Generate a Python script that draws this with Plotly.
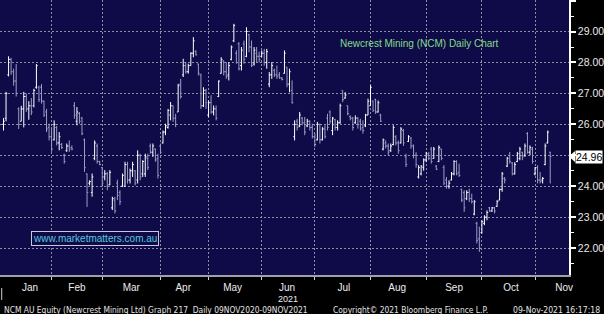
import pandas as pd
import plotly.graph_objects as go

# ASX holidays in the window (no trading)
holidays = ["2021-01-26", "2021-04-02", "2021-04-05", "2021-04-26", "2021-06-14"]

# Daily OHLC (open, high, low, close), month by month
jan = [(26.0, 26.2, 25.8, 26.1), (26.2, 27.05, 26.1, 27.0), (27.6, 28.2, 27.55, 28.1),
       (28.1, 28.15, 27.6, 27.7), (27.7, 27.8, 27.25, 27.4), (27.4, 27.95, 26.9, 27.0),
       (26.5, 26.55, 25.85, 26.0), (26.1, 26.6, 26.1, 26.5), (26.5, 27.05, 25.9, 26.9),
       (26.9, 27.0, 26.4, 26.5), (26.5, 26.75, 26.15, 26.6), (26.6, 26.85, 26.3, 26.4),
       (26.6, 27.15, 26.55, 27.1), (27.2, 27.95, 27.15, 27.9), (27.2, 27.25, 26.72, 26.8),
       (27.2, 27.3, 26.67, 26.75), (26.75, 26.77, 26.24, 26.3), (26.4, 26.5, 25.75, 25.85),
       (25.9, 26.02, 25.48, 25.6)]
feb = [(25.6, 25.91, 25.11, 25.2), (25.5, 26.13, 25.48, 26.0), (25.9, 25.95, 25.32, 25.4),
       (25.4, 25.75, 25.16, 25.6), (25.35, 25.4, 25.2, 25.25), (25.0, 25.05, 24.73, 24.8),
       (25.15, 25.38, 25.11, 25.3), (25.3, 25.48, 25.11, 25.2), (25.25, 25.32, 25.16, 25.2),
       (26.6, 26.72, 26.18, 26.3), (26.1, 26.56, 25.97, 26.4), (26.35, 26.4, 26.02, 26.1),
       (26.2, 26.24, 25.65, 25.7), (25.5, 25.54, 24.46, 24.6), (24.4, 24.41, 23.33, 23.8),
       (24.1, 24.19, 24.03, 24.15), (23.8, 24.41, 23.66, 24.3), (24.9, 25.48, 24.84, 25.4),
       (25.3, 25.38, 24.73, 24.8), (24.8, 24.82, 24.68, 24.7)]
mar = [(24.6, 24.62, 23.98, 24.1), (24.3, 24.52, 24.19, 24.4), (24.4, 24.46, 23.87, 24.0),
       (24.05, 24.52, 24.03, 24.45), (23.3, 23.66, 23.23, 23.6), (23.55, 23.66, 23.12, 23.2),
       (24.1, 24.21, 23.55, 23.7), (23.8, 23.87, 23.39, 23.5), (24.0, 24.41, 23.98, 24.35),
       (24.0, 24.79, 23.98, 24.7), (24.7, 24.79, 24.09, 24.2), (24.2, 24.57, 24.09, 24.5),
       (24.5, 24.79, 24.3, 24.7), (24.5, 24.52, 24.03, 24.1), (24.2, 25.16, 24.09, 25.0),
       (25.0, 25.05, 24.19, 24.3), (24.4, 24.84, 24.3, 24.8), (24.4, 25.05, 24.3, 24.95),
       (24.9, 25.05, 24.52, 24.6), (25.3, 25.38, 25.05, 25.1), (25.1, 25.38, 24.95, 25.3),
       (25.2, 25.22, 24.79, 24.85), (24.9, 25.05, 24.25, 24.35)]
apr = [(25.3, 25.38, 25.05, 25.1), (25.4, 25.8, 25.38, 25.75), (25.75, 26.02, 25.65, 25.95),
       (25.9, 26.5, 25.86, 26.45), (26.3, 26.72, 26.13, 26.6), (26.6, 26.61, 26.08, 26.2),
       (26.2, 26.34, 25.91, 26.0), (26.4, 27.31, 26.4, 27.25), (27.3, 27.47, 26.83, 26.9),
       (27.6, 28.12, 27.53, 27.9), (27.9, 28.01, 27.64, 27.7), (27.7, 27.96, 27.64, 27.9),
       (27.9, 28.33, 27.9, 28.3), (28.3, 28.82, 28.17, 28.7), (28.35, 28.4, 28.22, 28.25),
       (27.95, 27.96, 27.58, 27.65), (27.6, 27.64, 26.5, 26.6), (26.6, 27.2, 26.56, 27.1),
       (27.1, 27.15, 26.5, 26.7)]
may = [(26.3, 26.77, 26.24, 26.7), (26.7, 26.94, 26.34, 26.4), (26.4, 26.61, 26.29, 26.5),
       (26.5, 26.61, 26.13, 26.2), (26.9, 27.42, 26.88, 27.4), (27.65, 28.17, 27.64, 28.1),
       (28.05, 28.07, 27.58, 27.7), (27.7, 28.01, 27.47, 27.55), (27.6, 28.01, 27.42, 27.9),
       (28.1, 28.55, 28.07, 28.5), (28.7, 29.25, 28.66, 29.2), (28.3, 28.39, 27.96, 28.0),
       (28.6, 28.66, 27.74, 27.8), (27.9, 28.5, 27.74, 28.4), (28.6, 28.71, 27.96, 28.1),
       (28.2, 29.14, 28.17, 29.0), (28.9, 28.92, 28.33, 28.5), (28.5, 28.71, 27.85, 27.9),
       (27.95, 28.5, 27.9, 28.4), (28.3, 28.5, 28.0, 28.2), (28.2, 28.35, 28.0, 28.1)]
jun = [(28.2, 28.39, 28.17, 28.3), (28.3, 28.44, 27.9, 28.0), (28.0, 28.44, 27.8, 28.35),
       (27.3, 27.69, 27.2, 27.6), (27.6, 28.01, 27.47, 27.9), (27.75, 27.8, 27.53, 27.6),
       (27.6, 27.9, 27.47, 27.55), (27.6, 27.69, 27.47, 27.5), (27.5, 27.53, 27.42, 27.45),
       (27.65, 28.39, 27.64, 28.3), (27.85, 27.85, 27.2, 27.3), (27.3, 27.8, 27.04, 27.7),
       (27.1, 27.42, 26.67, 26.7), (25.6, 26.13, 25.48, 26.0), (26.1, 26.18, 25.8, 25.9),
       (25.95, 26.4, 25.91, 26.3), (26.2, 26.24, 25.97, 26.05), (26.05, 26.24, 25.65, 25.75),
       (25.95, 26.18, 25.91, 26.1), (26.1, 26.13, 25.8, 25.9), (25.9, 26.02, 25.54, 25.6)]
jul = [(25.6, 25.7, 25.27, 25.35), (25.5, 26.08, 25.48, 26.0), (26.0, 26.02, 25.38, 25.5),
       (25.5, 25.91, 25.48, 25.85), (25.85, 25.97, 25.54, 25.6), (26.2, 26.34, 25.8, 25.9),
       (26.4, 26.45, 26.02, 26.1), (25.8, 26.24, 25.65, 26.2), (26.15, 26.18, 25.8, 25.9),
       (25.9, 26.13, 25.8, 26.05), (26.05, 26.67, 26.02, 26.6), (27.1, 27.1, 26.72, 26.8),
       (26.85, 27.04, 26.83, 26.95), (26.6, 26.61, 26.29, 26.35), (26.25, 26.29, 26.13, 26.2),
       (26.2, 26.24, 25.8, 25.9), (26.05, 26.29, 26.02, 26.2), (26.2, 26.24, 25.86, 26.0),
       (26.1, 26.18, 25.8, 25.85), (25.9, 26.13, 25.7, 25.8), (25.95, 26.34, 25.91, 26.3),
       (26.3, 26.83, 26.3, 26.75)]
aug = [(26.6, 27.26, 26.6, 27.2), (26.75, 26.77, 26.4, 26.45), (26.8, 26.83, 26.34, 26.4),
       (26.4, 26.77, 26.38, 26.7), (26.3, 26.34, 26.08, 26.1), (25.2, 25.54, 25.16, 25.5),
       (25.4, 25.48, 25.22, 25.3), (25.3, 25.38, 25.0, 25.1), (25.15, 25.38, 25.11, 25.3),
       (25.35, 25.97, 25.32, 25.9), (25.6, 25.65, 25.32, 25.4), (25.4, 25.48, 25.05, 25.15),
       (25.4, 25.91, 25.38, 25.85), (25.8, 25.85, 25.3, 25.4), (24.95, 25.05, 24.62, 24.7),
       (25.45, 25.65, 25.43, 25.6), (25.55, 25.59, 25.21, 25.3), (25.3, 25.35, 24.9, 25.0),
       (25.0, 25.1, 24.6, 24.7), (24.3, 24.68, 24.25, 24.6), (24.4, 24.68, 24.35, 24.65),
       (24.6, 24.9, 24.5, 24.85)]
sep = [(24.85, 25.11, 24.78, 25.05), (25.0, 25.11, 24.84, 24.9), (25.2, 25.27, 24.73, 24.8),
       (24.9, 25.27, 24.89, 25.2), (24.65, 24.68, 24.52, 24.55), (24.8, 25.32, 24.78, 25.25),
       (25.2, 25.21, 24.84, 24.9), (24.6, 24.68, 24.03, 24.1), (24.2, 24.3, 23.92, 24.0),
       (24.0, 24.19, 23.92, 24.1), (24.2, 24.46, 24.19, 24.4), (24.4, 24.84, 24.35, 24.8),
       (24.8, 24.84, 24.35, 24.4), (24.45, 24.73, 24.3, 24.35), (23.9, 23.92, 23.49, 23.55),
       (23.8, 23.87, 23.17, 23.3), (23.6, 23.87, 23.55, 23.8), (23.8, 23.92, 23.49, 23.6),
       (23.6, 23.76, 23.44, 23.5), (23.1, 23.55, 23.06, 23.5), (22.8, 22.85, 22.15, 22.25),
       (22.3, 22.69, 21.88, 22.0)]
oct_ = [(22.5, 22.9, 22.47, 22.85), (22.8, 23.06, 22.74, 23.0), (23.0, 23.22, 22.9, 23.15),
        (23.3, 23.33, 23.17, 23.2), (23.2, 23.33, 23.17, 23.3), (23.3, 23.33, 23.12, 23.2),
        (23.35, 23.55, 23.33, 23.5), (23.55, 23.92, 23.55, 23.9), (23.9, 24.46, 23.82, 24.4),
        (24.25, 24.3, 24.09, 24.2), (24.65, 24.95, 24.62, 24.9), (25.0, 25.11, 24.73, 24.8),
        (24.75, 24.78, 24.35, 24.4), (24.4, 24.78, 24.38, 24.7), (24.8, 25.11, 24.78, 25.05),
        (24.9, 25.27, 24.84, 25.2), (25.1, 25.11, 24.84, 24.95), (25.0, 25.38, 24.95, 25.3),
        (25.7, 25.75, 25.05, 25.1), (25.1, 25.32, 25.0, 25.25), (25.2, 25.27, 24.73, 24.8)]
nov = [(24.4, 24.62, 24.35, 24.6), (24.6, 24.68, 24.09, 24.2), (24.2, 24.46, 24.09, 24.15),
       (24.2, 24.3, 24.09, 24.25), (24.7, 25.38, 24.68, 25.3), (25.4, 25.8, 25.38, 25.75),
       (25.1, 25.11, 24.09, 24.96)]

main_font = "Liberation Sans, Arial, sans-serif"
footer_font = "Liberation Sans Narrow, DejaVu Sans Condensed, Arial Narrow, Liberation Sans, sans-serif"

y_ticks = [22, 23, 24, 25, 26, 27, 28, 29, 30]
y_ticktext = ["22.00", "23.00", "24.00", "", "26.00", "27.00", "28.00", "29.00", ""]
last_price = 24.96

rows = jan + feb + mar + apr + may + jun + jul + aug + sep + oct_ + nov
dates = pd.bdate_range("2021-01-04", "2021-11-09", freq="C", holidays=holidays)
dates = dates[:len(rows)]
opens = [r[0] for r in rows]
highs = [r[1] for r in rows]
lows = [r[2] for r in rows]
closes = [r[3] for r in rows]

PLOT_BG = "#0e0b48"
GRID = "#8e8e9e"

fig = go.Figure(go.Ohlc(
    x=dates, open=opens, high=highs, low=lows, close=closes,
    increasing=dict(line=dict(color="#ffffff", width=1)),
    decreasing=dict(line=dict(color="#9c9cc6", width=1)),
    tickwidth=0.5, hoverinfo="skip", showlegend=False,
))

fig.update_layout(
    width=604, height=314,
    margin=dict(l=0, r=33, t=0, b=39),
    paper_bgcolor="#000000", plot_bgcolor=PLOT_BG,
    showlegend=False,
    font=dict(family=main_font, color="#e8e8ee", size=10),
    xaxis=dict(
        type="date",
        range=["2020-12-31 14:40", "2021-11-18 10:00"],
        rangebreaks=[dict(bounds=["sat", "mon"]), dict(values=holidays)],
        rangeslider=dict(visible=False),
        tick0="2021-01-01", dtick="M1", tickformat="%b", ticklabelmode="period",
        ticklabelstandoff=-1,
        showgrid=True, gridcolor=GRID, gridwidth=1, griddash="2px,2px",
        showline=True, linecolor="#a0a0a8", linewidth=2,
        ticks="outside", ticklen=3, tickcolor="#d0d0d0", tickwidth=1,
        tickfont=dict(size=10, color="#ececf0"),
        fixedrange=True,
    ),
    yaxis=dict(
        side="right",
        range=[21.13, 30.02],
        tickmode="array", tickvals=y_ticks, ticktext=y_ticktext,
        showgrid=True, gridcolor=GRID, gridwidth=1, griddash="2px,2px",
        zeroline=False,
        showline=True, linecolor="#ffffff", linewidth=1.5,
        ticks="outside", ticklen=5, tickwidth=2, tickcolor="#ffffff",
        minor=dict(tick0=0, dtick=0.5, ticks="outside", ticklen=3,
                   tickcolor="#ffffff", tickwidth=1, showgrid=False),
        tickfont=dict(size=10.5, color="#e8e8ee"),
        fixedrange=True,
    ),
)

annotations = [
    dict(text="Newcrest Mining (NCM) Daily Chart", xref="paper", yref="paper",
         x=0.737, y=0.8436, xanchor="center", yanchor="middle", showarrow=False,
         font=dict(size=10, color="#86dc86", family=main_font)),
    dict(text="www.marketmatters.com.au", xref="paper", yref="paper",
         x=0.1664, y=0.1327, xanchor="center", yanchor="middle", showarrow=False,
         bordercolor="#c8c8d8", borderwidth=1, borderpad=1, bgcolor=PLOT_BG,
         font=dict(size=10, color="#55c6de", family=main_font)),
    dict(text=f"{last_price:.2f}", xref="paper", yref="y", x=1.0, y=last_price,
         xanchor="left", yanchor="middle", xshift=6, showarrow=False,
         bgcolor="#ffffff", borderpad=0,
         font=dict(size=10.5, color="#000000", family=main_font)),
    dict(text="2021", xref="paper", yref="paper", x=0.506, y=-0.086,
         xanchor="center", yanchor="middle",
         showarrow=False, font=dict(size=9, color="#ececf0")),
    dict(text="NCM AU Equity (Newcrest Mining Ltd) Graph 217  Daily 09NOV2020-09NOV2021",
         xref="paper", yref="paper", x=0.0035, y=-0.126, xanchor="left", yanchor="middle",
         showarrow=False, font=dict(size=8.4, color="#e4e4e4", family=footer_font)),
    dict(text="Copyright\u00a9 2021 Bloomberg Finance L.P.",
         xref="paper", yref="paper", x=0.5814, y=-0.126, xanchor="left", yanchor="middle",
         showarrow=False, font=dict(size=8.4, color="#e4e4e4", family=footer_font)),
    dict(text="09-Nov-2021 16:17:18",
         xref="paper", yref="paper", x=1.0578, y=-0.126, xanchor="right", yanchor="middle",
         showarrow=False, font=dict(size=8.6, color="#e4e4e4", family=footer_font)),
]
fig.update_layout(annotations=annotations)

fig.add_shape(type="path", xref="paper", yref="y",
              path=f"M 1,{last_price} L 1.0105,{last_price + 0.18} L 1.0105,{last_price - 0.18} Z",
              fillcolor="#ffffff", line=dict(width=0))
fig.add_shape(type="line", xref="paper", yref="paper", x0=0.003, x1=0.003,
              y0=-0.047, y1=-0.091, line=dict(color="#cccccc", width=1))

fig.write_html("out.html")
